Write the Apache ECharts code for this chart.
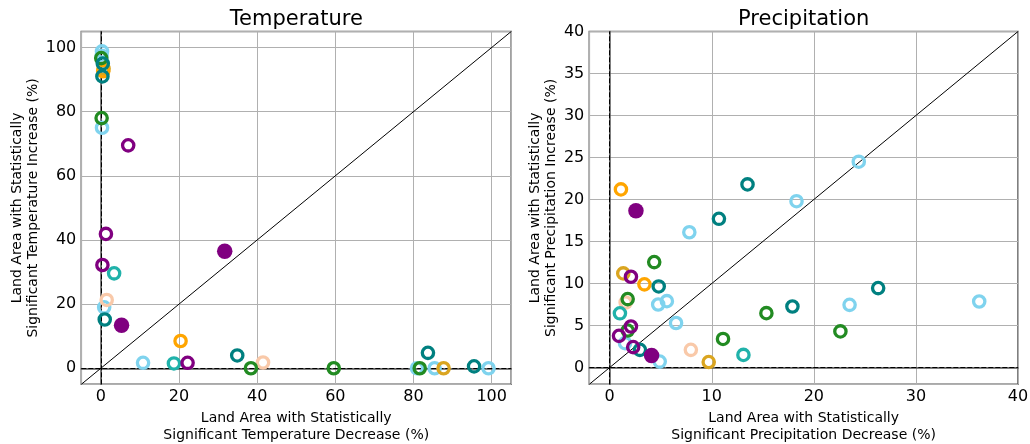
<!DOCTYPE html>
<html>
<head>
<meta charset="utf-8">
<script src="https://cdn.jsdelivr.net/npm/echarts@6/dist/echarts.min.js"></script>
<style>html,body{margin:0;padding:0;background:#fff}#c{width:1030px;height:444px}</style>
</head>
<body>
<div id="c"></div>
<script>
// ---------- Axis ranges / titles ----------
const tempXRange = [-5, 105];
const tempYRange = [-5, 105];
const precXRange = [-2, 40];
const precYRange = [-2, 40];
const panelTitles = ['Temperature', 'Precipitation'];
const tempXLabel = 'Land Area with Statistically\nSignificant Temperature Decrease (%)';
const tempYLabel = 'Land Area with Statistically\nSignificant Temperature Increase (%)';
const precXLabel = 'Land Area with Statistically\nSignificant Precipitation Decrease (%)';
const precYLabel = 'Land Area with Statistically\nSignificant Precipitation Increase (%)';

// ---------- Temperature panel: [decrease %, increase %] ----------
const tempSkyblue = [[0.3, 98.8], [0.2, 97.4], [0.3, 75], [0.85, 19], [10.8, 1.7], [80.9, 0], [85.4, 0], [99.2, 0]];
const tempPeach = [[1.5, 21.3], [41.5, 1.8]];
const tempLightSeaGreen = [[3.4, 29.6], [18.7, 1.5]];
const tempGoldenrod = [[0.7, 93.4], [87.7, 0]];
const tempOrange = [[0.6, 92.6], [20.4, 8.5]];
const tempGreen = [[0.1, 96.7], [0.2, 78], [38.4, 0], [59.6, 0], [81.6, 0]];
const tempTeal = [[0.5, 95], [0.4, 91], [1.0, 15.2], [34.9, 4], [83.7, 4.8], [95.5, 0.6]];
const tempPurple = [[7.0, 69.5], [1.3, 41.9], [0.4, 32.2], [22.2, 1.7]];
const tempPurpleFilled = [[31.7, 36.5], [5.3, 13.4]];

// ---------- Precipitation panel: [decrease %, increase %] ----------
const precSkyblue = [[24.4, 24.5], [18.3, 19.8], [7.8, 16.1], [5.6, 7.9], [4.75, 7.5], [6.5, 5.3], [23.5, 7.46], [36.2, 7.86], [1.5, 2.9], [4.9, 0.7]];
const precPeach = [[1.56, 7.74], [7.95, 2.1]];
const precLightSeaGreen = [[1.0, 6.45], [13.1, 1.5]];
const precGoldenrod = [[1.33, 11.2], [9.7, 0.65]];
const precOrange = [[1.1, 21.2], [3.4, 9.9]];
const precGreen = [[4.36, 12.55], [1.76, 8.14], [1.76, 4.4], [15.35, 6.47], [22.6, 4.3], [11.1, 3.4]];
const precTeal = [[13.5, 21.8], [10.7, 17.7], [4.8, 9.65], [26.3, 9.45], [17.9, 7.26], [2.96, 2.1]];
const precPurple = [[2.08, 10.8], [2.08, 4.88], [0.91, 3.77], [2.3, 2.43]];
const precPurpleFilled = [[2.57, 18.65], [4.1, 1.43]];

// ---------- Styling ----------
const FONT = 'DejaVu Sans';
const COLORS = {
  skyblue: '#7FD3EE', peach: '#F9C9A9', lightseagreen: '#20B2AA', goldenrod: '#DAA520',
  orange: '#FFA500', green: '#228B22', teal: '#008080', purple: '#800080'
};

function ring(data, color, idx) {
  return {
    type: 'scatter', xAxisIndex: idx, yAxisIndex: idx, data: data,
    symbol: 'circle', symbolSize: 11.3, silent: true, z: 5,
    itemStyle: { color: 'rgba(0,0,0,0)', borderColor: color, borderWidth: 3.3, opacity: 1 },
    emphasis: { disabled: true }
  };
}
function dot(data, color, idx) {
  return {
    type: 'scatter', xAxisIndex: idx, yAxisIndex: idx, data: data,
    symbol: 'circle', symbolSize: 15.5, silent: true, z: 6,
    itemStyle: { color: color, borderWidth: 0, opacity: 1 },
    emphasis: { disabled: true }
  };
}
function refLines(range, idx) {
  return {
    type: 'line', xAxisIndex: idx, yAxisIndex: idx,
    data: [[range[0], range[0]], [range[1], range[1]]],
    showSymbol: false, symbol: 'none', silent: true, clip: true, z: 3,
    lineStyle: { color: '#000', width: 1 },
    markLine: {
      silent: true, symbol: ['none', 'none'], label: { show: false },
      lineStyle: { color: '#000', width: 1, type: [5, 2] },
      data: [{ xAxis: 0 }, { yAxis: 0 }],
      animation: false
    }
  };
}
function xAxis(idx, range, split, name, showMax) {
  return {
    gridIndex: idx, type: 'value', min: range[0], max: range[1], splitNumber: split,
    axisLine: { show: true, lineStyle: { color: '#555', width: 1.5 } },
    axisTick: { show: false },
    axisLabel: { fontSize: 16, color: '#000', fontFamily: FONT, margin: 5, showMinLabel: false, showMaxLabel: showMax },
    splitLine: { show: true, lineStyle: { color: '#b0b0b0', width: 1 } },
    name: name, nameLocation: 'middle', nameGap: 16,
    nameTextStyle: { fontSize: 14, lineHeight: 17, color: '#000', fontFamily: FONT }
  };
}
function yAxis(idx, range, split, name, showMax, gap) {
  return {
    gridIndex: idx, type: 'value', min: range[0], max: range[1], splitNumber: split,
    axisLine: { show: true, lineStyle: { color: '#555', width: 1.5 } },
    axisTick: { show: false },
    axisLabel: { fontSize: 16, color: '#000', fontFamily: FONT, margin: 5, showMinLabel: false, showMaxLabel: showMax },
    splitLine: { show: true, lineStyle: { color: '#b0b0b0', width: 1 } },
    name: name, nameLocation: 'middle', nameGap: gap, nameRotate: 90,
    nameTextStyle: { fontSize: 14, lineHeight: 16.5, color: '#000', fontFamily: FONT }
  };
}

const chart = echarts.init(document.getElementById('c'), null, { renderer: 'canvas' });
chart.setOption({
  animation: false,
  backgroundColor: '#fff',
  textStyle: { fontFamily: FONT },
  grid: [
    { left: 81.3, right: 518.8, top: 31.5, bottom: 59.7, show: true, borderColor: '#555', borderWidth: 1.5, containLabel: false, outerBoundsMode: 'none' },
    { left: 589.3, right: 12, top: 31.5, bottom: 59.7, show: true, borderColor: '#555', borderWidth: 1.5, containLabel: false, outerBoundsMode: 'none' }
  ],
  graphic: [
    { type: 'text', x: 296.3, y: 19.5, silent: true,
      style: { text: panelTitles[0], fontSize: 21, fontFamily: FONT, fill: '#000', align: 'center', verticalAlign: 'middle' } },
    { type: 'text', x: 803.7, y: 19.5, silent: true,
      style: { text: panelTitles[1], fontSize: 21, fontFamily: FONT, fill: '#000', align: 'center', verticalAlign: 'middle' } }
  ],
  xAxis: [
    xAxis(0, tempXRange, 5, tempXLabel, false),
    xAxis(1, precXRange, 4, precXLabel, true)
  ],
  yAxis: [
    yAxis(0, tempYRange, 5, tempYLabel, false, 36.5),
    yAxis(1, precYRange, 8, precYLabel, true, 27)
  ],
  series: [
    refLines(tempXRange, 0),
    ring(tempSkyblue, COLORS.skyblue, 0),
    ring(tempPeach, COLORS.peach, 0),
    ring(tempLightSeaGreen, COLORS.lightseagreen, 0),
    ring(tempGoldenrod, COLORS.goldenrod, 0),
    ring(tempOrange, COLORS.orange, 0),
    ring(tempGreen, COLORS.green, 0),
    ring(tempTeal, COLORS.teal, 0),
    ring(tempPurple, COLORS.purple, 0),
    dot(tempPurpleFilled, COLORS.purple, 0),

    refLines(precXRange, 1),
    ring(precSkyblue, COLORS.skyblue, 1),
    ring(precPeach, COLORS.peach, 1),
    ring(precLightSeaGreen, COLORS.lightseagreen, 1),
    ring(precGoldenrod, COLORS.goldenrod, 1),
    ring(precOrange, COLORS.orange, 1),
    ring(precGreen, COLORS.green, 1),
    ring(precTeal, COLORS.teal, 1),
    ring(precPurple, COLORS.purple, 1),
    dot(precPurpleFilled, COLORS.purple, 1)
  ]
});
</script>
</body>
</html>
